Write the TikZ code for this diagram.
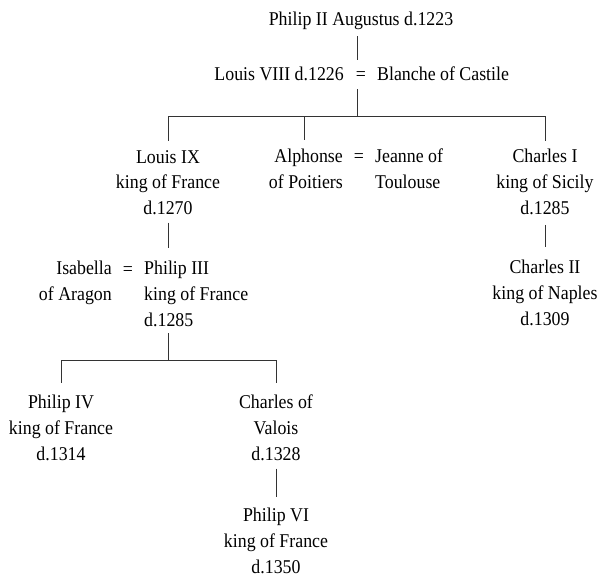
\documentclass[tikz,border=0pt]{standalone}
\usepackage{fontspec}
\setmainfont{Liberation Serif}[FakeStretch=0.915]
\newcommand\treefont{\fontsize{19.5}{25.8}\selectfont}
\begin{document}
\begin{tikzpicture}[x=1pt,y=-1pt,
  every node/.style={font=\treefont, inner sep=0pt},
  person/.style={align=center},
  link/.style={line width=0.9pt, black!80}]
\useasboundingbox (0,0) rectangle (601,581);
% generation 1
\node[anchor=base] (p2) at (361,25) {Philip II Augustus d.1223};
% generation 2
\node[anchor=base] (eq1) at (361,80) {=};
\node[anchor=base east] (l8) at (344,80) {Louis VIII d.1226};
\node[anchor=base west] (bl) at (377,80) {Blanche of Castile};
% generation 3
\node[person, anchor=north] (l9) at (168,150) {Louis IX\\king of France\\d.1270};
\node[person, align=right, anchor=north east] (alp) at (343,149) {Alphonse\\of Poitiers};
\node[anchor=base] (eq2) at (359,162) {=};
\node[person, align=left, anchor=north west] (jea) at (375,149) {Jeanne of\\Toulouse};
\node[person, anchor=north] (ch1) at (545,149) {Charles I\\king of Sicily\\d.1285};
% generation 4
\node[person, align=right, anchor=north east] (isa) at (112,261) {Isabella\\of Aragon};
\node[anchor=base] (eq3) at (128,275) {=};
\node[person, align=left, anchor=north west] (p3) at (144,261) {Philip III\\king of France\\d.1285};
\node[person, anchor=north] (ch2) at (545,260) {Charles II\\king of Naples\\d.1309};
% generation 5
\node[person, anchor=north] (p4) at (61,395) {Philip IV\\king of France\\d.1314};
\node[person, anchor=north] (val) at (276,395) {Charles of\\Valois\\d.1328};
% generation 6
\node[person, anchor=north] (p6) at (276,508) {Philip VI\\king of France\\d.1350};
% bar coordinates
\coordinate (b1) at (357,116);
\coordinate (b2) at (168,360);
% connectors
\draw[link] ([yshift=-11pt]p2.base -| b1) -- ([xshift=-4pt,yshift=20pt]eq1.base);
\draw[link] ([xshift=-4pt,yshift=-9pt]eq1.base) -- (b1);
\draw[link, shorten >=9pt] (l9.north |- b1) -- (l9.north);
\draw[link] (l9.north |- b1) -- (ch1.north |- b1);
\draw[link, shorten >=9pt] ([xshift=-1pt]alp.north |- b1) -- ([xshift=-1pt]alp.north);
\draw[link, shorten >=8pt] (ch1.north |- b1) -- (ch1.north);
\draw[link, shorten <=7.5pt, shorten >=13pt] (l9.south) -- (l9.south |- p3.north);
\draw[link, shorten <=10pt, shorten >=13pt] (ch1.south) -- (ch2.north);
\draw[link, shorten <=6.5pt] (p3.south -| b2) -- (b2);
\draw[link] (p4.north |- b2) -- (val.north |- b2);
\draw[link, shorten >=12pt] (p4.north |- b2) -- (p4.north);
\draw[link, shorten >=12pt] (val.north |- b2) -- (val.north);
\draw[link, shorten <=7.5pt, shorten >=11pt] (val.south) -- (p6.north);
\end{tikzpicture}
\end{document}
